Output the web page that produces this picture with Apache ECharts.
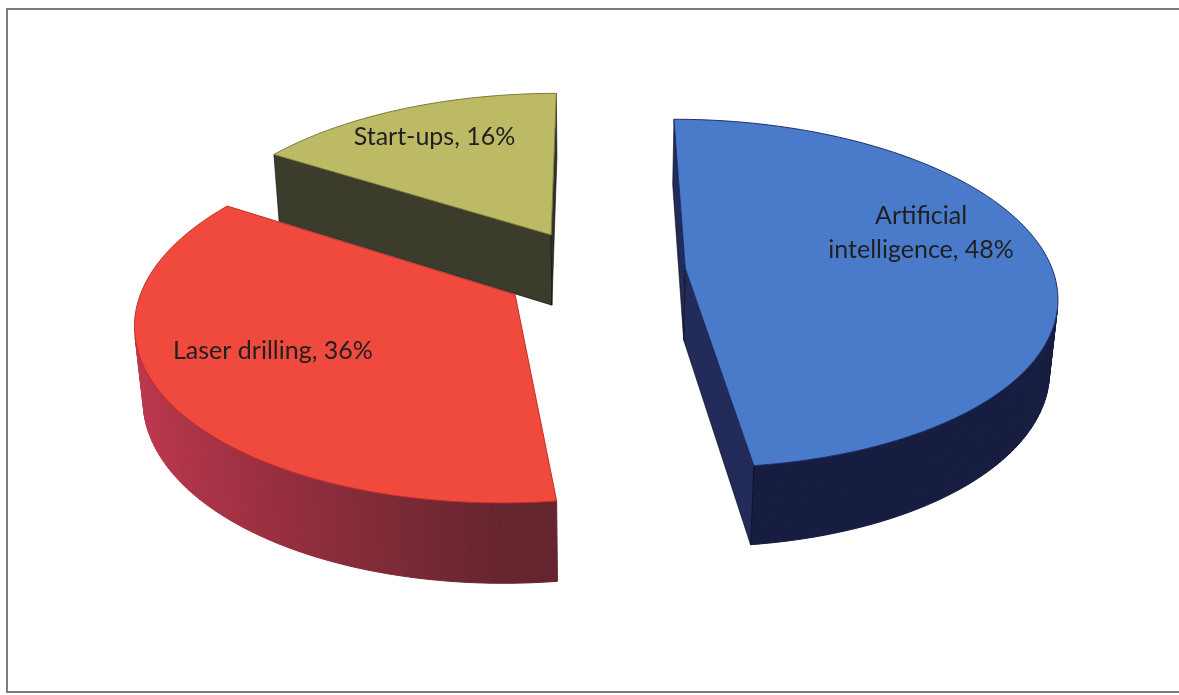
<!DOCTYPE html>
<html>
<head>
<meta charset="utf-8">
<script src="https://cdn.jsdelivr.net/npm/echarts@6/dist/echarts.min.js"></script>
<style>
  html, body { margin: 0; padding: 0; background: #ffffff; }
  #chart { width: 1179px; height: 695px; }
</style>
</head>
<body>
<div id="chart"></div>
<script>
// Share of each field
const categories = ['Artificial\nintelligence', 'Laser drilling', 'Start-ups'];
const values = [48, 36, 16];

// Slice colours: top face, lit side, shaded side, top outline
const topColors = ['#4A7BCB', '#EF4A3D', '#BDBA66'];
const sideLight = ['#232B5A', '#C2384F', '#45452F'];
const sideDark = ['#161D40', '#65252E', '#323229'];
const edgeColors = ['#1E2F6A', '#C42B2B', '#7D7A3A'];

// Where each label sits on its slice top: [radius fraction, angle in degrees]
const labelSpots = [[0.705, 72], [0.68, 243.5], [0.76, 331]];

// 3D view of the pie: screen centre, pixels per radius, tilt, camera distance,
// slab thickness and explosion distance (both in radius units)
const VIEW = { cx: 594, cy: 343, scale: 361, tiltDeg: 29.6, dist: 6.21, height: 0.2245, explode: 0.2495 };

const tilt = VIEW.tiltDeg * Math.PI / 180;
const sa = Math.sin(tilt), ca = Math.cos(tilt);
const cam = [0, VIEW.dist * sa, VIEW.dist * ca];

// world (X right, Y up, Z toward viewer) -> screen pixels with perspective
function project(X, Y, Z) {
  const up = Y * ca - Z * sa;
  const d = Y * sa + Z * ca;
  const f = VIEW.dist / (VIEW.dist - d);
  return [VIEW.cx + VIEW.scale * X * f, VIEW.cy - VIEW.scale * up * f];
}

const total = values.reduce((a, b) => a + b, 0);
let acc = 0;
const slices = values.map((v) => {
  const a0 = acc / total * 2 * Math.PI;
  acc += v;
  const a1 = acc / total * 2 * Math.PI;
  const am = (a0 + a1) / 2;
  return { a0, a1, ox: VIEW.explode * Math.sin(am), oz: -VIEW.explode * Math.cos(am) };
});

// paint far slices first
const order = slices.map((s, i) => i).sort((a, b) => slices[a].oz - slices[b].oz);
const rank = [];
order.forEach((idx, r) => { rank[idx] = r; });

// angle measured clockwise from the back of the pie
function rim(s, a, r) {
  return [s.ox + r * Math.sin(a), s.oz - r * Math.cos(a)];
}
function facing(P, n) {
  return (cam[0] - P[0]) * n[0] + (cam[1] - P[1]) * n[1] + (cam[2] - P[2]) * n[2] > 0;
}
function shade(i, n) {
  const t = Math.max(0, Math.min(1, -n[0]));
  return echarts.color.lerp(t, [sideDark[i], sideLight[i]]);
}

function renderItem(params, api) {
  const i = params.dataIndex;
  const s = slices[i];
  const h = VIEW.height;
  const base = rank[i] * 100;
  const children = [];

  // curved outer wall, one strip per degree
  const steps = Math.max(8, Math.ceil((s.a1 - s.a0) / (Math.PI / 180)));
  for (let k = 0; k < steps; k++) {
    const b0 = s.a0 + (s.a1 - s.a0) * k / steps;
    const b1 = s.a0 + (s.a1 - s.a0) * (k + 1) / steps;
    const bm = (b0 + b1) / 2;
    const n = [Math.sin(bm), 0, -Math.cos(bm)];
    const pm = rim(s, bm, 1);
    if (!facing([pm[0], h / 2, pm[1]], n)) continue;
    const p0 = rim(s, b0, 1), p1 = rim(s, b1, 1);
    const col = shade(i, n);
    children.push({
      type: 'polygon', z2: base + 1,
      shape: { points: [project(p0[0], h, p0[1]), project(p1[0], h, p1[1]), project(p1[0], 0, p1[1]), project(p0[0], 0, p0[1])] },
      style: { fill: col, stroke: col, lineWidth: 1 }
    });
  }

  // flat cut faces along the two radii
  [[s.a0, -1], [s.a1, 1]].forEach(([a, sign]) => {
    const n = [sign * Math.cos(a), 0, sign * Math.sin(a)];
    const e = rim(s, a, 1);
    const mid = rim(s, a, 0.5);
    if (!facing([mid[0], h / 2, mid[1]], n)) return;
    const col = shade(i, n);
    children.push({
      type: 'polygon', z2: base + 2,
      shape: { points: [project(s.ox, h, s.oz), project(e[0], h, e[1]), project(e[0], 0, e[1]), project(s.ox, 0, s.oz)] },
      style: { fill: col, stroke: 'rgba(0,0,0,0.55)', lineWidth: 1, lineJoin: 'round' }
    });
  });

  // top face
  const topPts = [project(s.ox, h, s.oz)];
  for (let k = 0; k <= steps; k++) {
    const b = s.a0 + (s.a1 - s.a0) * k / steps;
    const p = rim(s, b, 1);
    topPts.push(project(p[0], h, p[1]));
  }
  children.push({
    type: 'polygon', z2: base + 3,
    shape: { points: topPts },
    style: { fill: topColors[i], stroke: edgeColors[i], lineWidth: 1, lineJoin: 'round' }
  });

  // data label
  const spot = labelSpots[i];
  const lp3 = rim(s, spot[1] * Math.PI / 180, spot[0]);
  const lp = project(lp3[0], h, lp3[1]);
  const pct = Math.round(values[i] / total * 100);
  children.push({
    type: 'text', z2: base + 10,
    x: lp[0], y: lp[1],
    style: {
      text: categories[i] + ', ' + pct + '%',
      fill: '#1f1f1f',
      font: '25px Lato',
      align: 'center', verticalAlign: 'middle',
      textAlign: 'center', textVerticalAlign: 'middle',
      lineHeight: 34
    }
  });

  return { type: 'group', children };
}

const chart = echarts.init(document.getElementById('chart'), null, { renderer: 'canvas' });
chart.setOption({
  backgroundColor: '#ffffff',
  animation: false,
  graphic: [{
    type: 'rect', z: -1,
    shape: { x: 7, y: 9, width: 1185, height: 683 },
    style: { fill: 'none', stroke: '#7d7d7d', lineWidth: 2 }
  }],
  series: [{
    type: 'custom',
    coordinateSystem: 'none',
    renderItem: renderItem,
    data: values.map((v, i) => ({ name: categories[i], value: v }))
  }]
});
</script>
</body>
</html>
